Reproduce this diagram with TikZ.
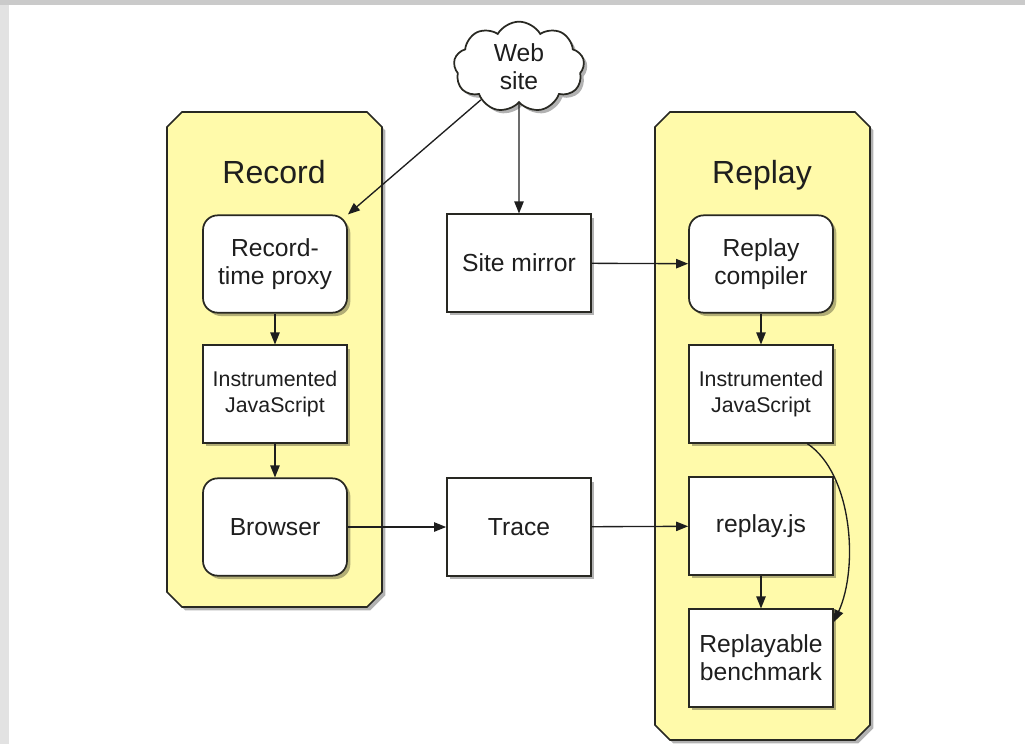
\documentclass[tikz,border=0pt]{standalone}
\usepackage{fontspec}
\setmainfont{Liberation Sans}
\usepackage{tikz}
\usetikzlibrary{arrows.meta,shapes.symbols,shadows}
\definecolor{panneau}{RGB}{255,250,170}
\definecolor{trait}{RGB}{40,40,34}
\definecolor{encre}{RGB}{30,30,30}
\definecolor{bandeh}{RGB}{202,202,202}
\definecolor{bandeg}{RGB}{226,226,226}

\begin{document}
\begin{tikzpicture}[x=0.75pt,y=-0.75pt,
    ombre/.style={drop shadow={shadow xshift=2.5pt,shadow yshift=-2.5pt,fill=black,opacity=0.3}},
    cadre/.style={draw=trait,line width=1.3pt,fill=panneau,ombre},
    boite/.style={rectangle,draw=trait,line width=1.3pt,fill=white,ombre,minimum width=108pt,
      minimum height=73pt,inner sep=0pt,align=center,text=encre,font=\fontsize{18.5pt}{21pt}\selectfont},
    arrondi/.style={boite,rounded corners=11pt},
    petit/.style={font=\fontsize{16pt}{19.5pt}\selectfont},
    titre/.style={anchor=base,text=encre,font=\fontsize{24pt}{28pt}\selectfont},
    fleche/.style={-{Triangle[length=9pt,width=7pt]},line width=1pt,draw=encre}]
    \useasboundingbox (0,0) rectangle (1025,744);
    \fill[bandeh] (0,0) rectangle (1025,5);
    \fill[bandeg] (0,5) rectangle (9,744);
    \fill[white] (9,5) rectangle (1025,744);
    \foreach \xa/\xb/\ya/\yb in {167/382/112/607,655/870/112/740}{
      \path[cadre] (\xa,\ya+15) -- (\xa+15,\ya) -- (\xb-15,\ya) -- (\xb,\ya+15)
        -- (\xb,\yb-15) -- (\xb-15,\yb) -- (\xa+15,\yb) -- (\xa,\yb-15) -- cycle;}
    \node[titre] (rectitre) at (274,183) {Record};
    \node[titre] (reptitre) at (762,183) {Replay};
    \node[cloud,cloud puffs=9,cloud puff arc=120,aspect=1.4,draw=trait,line width=1.3pt,fill=white,ombre,
      minimum width=98pt,minimum height=68pt,inner sep=0pt,align=center,text=encre,
      font=\fontsize{18.5pt}{21pt}\selectfont] (web) at (519,67) {Web\\site};
    \node[arrondi] (proxy) at (275,264) {Record-\\time proxy};
    \node[boite,petit] (instrrec) at (275,394) {Instrumented\\JavaScript};
    \node[arrondi] (browser) at (275,527) {Browser};
    \node[boite] (mirror) at (519,263) {Site mirror};
    \node[boite] (trace) at (519,527) {Trace};
    \node[arrondi] (compiler) at (761,264) {Replay\\compiler};
    \node[boite,petit] (instrrep) at (761,394) {Instrumented\\JavaScript};
    \node[boite] (replayjs) at (761,526) {replay.js};
    \node[boite] (bench) at (761,658) {Replayable\\benchmark};
    \draw[fleche] (web) -- (proxy.north east);
    \draw[fleche] (web) -- (mirror);
    \draw[fleche] (proxy) -- (instrrec);
    \draw[fleche] (instrrec) -- (browser);
    \draw[fleche] (browser) -- (trace);
    \draw[fleche] (trace) -- (replayjs);
    \draw[fleche] (mirror) -- (compiler);
    \draw[fleche] (compiler) -- (instrrep);
    \draw[fleche] (replayjs) -- (bench);
    \draw[fleche] ([xshift=-20pt]instrrep.south east) .. controls +(45,30) and +(25,-55) .. ([yshift=27pt]bench.east);
\end{tikzpicture}
\end{document}
